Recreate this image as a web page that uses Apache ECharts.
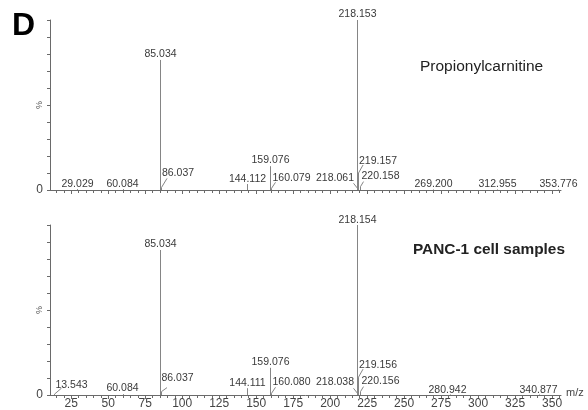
<!DOCTYPE html>
<html>
<head>
<meta charset="utf-8">
<script src="https://cdn.jsdelivr.net/npm/echarts@6/dist/echarts.min.js"></script>
<style>
html,body{margin:0;padding:0;background:#fff;}
#chart{width:588px;height:410px;}
</style>
</head>
<body>
<div id="chart"></div>
<script>
// ---- data ----
const topMz   = [29.029, 60.084, 85.034, 86.037, 144.112, 159.076, 160.079, 218.061, 218.153, 219.157, 220.158, 269.200, 312.955, 353.776];
const topInt  = [0.5,    0.5,    76.5,   1.5,    3.5,     14,      1.0,     1.0,     100,     10,      2.0,     0.3,     0.3,     0.3];
const botMz   = [13.543, 60.084, 85.034, 86.037, 144.111, 159.076, 160.080, 218.038, 218.154, 219.156, 220.156, 280.942, 340.877];
const botInt  = [0.5,    0.5,    85.3,   2.0,    4.0,     16,      1.0,     1.0,     100,     10.5,    2.0,     0.3,     0.3];
const xTickLabels = [25, 50, 75, 100, 125, 150, 175, 200, 225, 250, 275, 300, 325, 350];
const xMinorTicks = [15,20,30,35,40,45,55,60,65,70,80,85,90,95,105,110,115,120,130,135,140,145,155,160,165,170,180,185,190,195,205,210,215,220,230,235,240,245,255,260,265,270,280,285,290,295,305,310,315,320,330,335,340,345,355];
const panelTitles = ['Propionylcarnitine', 'PANC-1 cell samples'];

// ---- label layout (pixel offsets from peak top): [dx, dy, leaderX, leaderY] ----
const topLabelPos = [[0,-5],[-1,-5],[0,-6],[16.5,-14.5,5.5,-9],[0,-5],[0,-6],[20,-10.5,4,-6],[-22.5,-10.5,-4,-5],[0,-6],[19.5,-12,4.5,-8],[20,-10,3,-5],[0,-5],[0,-5],[0,-5]];
const botLabelPos = [[17,-9.5,7,-6],[-1,-6],[0,-5.5],[16,-13.5,5.5,-4],[0,-5],[0,-5.5],[20,-11.5,4,-6],[-22.5,-11,-4,-5],[0,-5],[19.5,-12,4.5,-8],[20,-10,3,-5],[-3,-4.5],[-1,-4.5]];

const FONT = "'Liberation Sans', Arial, sans-serif";
const PEAK = '#858585';
const TXT = '#3a3a3a';

function makeRender(layout) {
  return function (params, api) {
    const i = api.value(2);
    const p0 = api.coord([api.value(0), 0]);
    const p1 = api.coord([api.value(0), api.value(1)]);
    const x = Math.round(p0[0]) + 0.5;
    const lay = layout[i];
    const children = [{
      type: 'line',
      shape: {x1: x, y1: p0[1], x2: x, y2: p1[1]},
      style: {stroke: PEAK, lineWidth: 1}
    }, {
      type: 'text',
      x: x + lay[0], y: p1[1] + lay[1],
      style: {text: api.value(0).toFixed(3), fill: TXT, font: '10.5px ' + FONT, textAlign: 'center', textVerticalAlign: 'middle'}
    }];
    if (lay.length > 2) {
      children.push({
        type: 'line',
        shape: {x1: x, y1: p1[1], x2: x + lay[2], y2: p1[1] + lay[3]},
        style: {stroke: '#777', lineWidth: 0.9}
      });
    }
    return {type: 'group', children: children};
  };
}

function xAxes(gridIndex, withLabels) {
  const base = {
    type: 'value', gridIndex: gridIndex, min: 10.7, max: 356, position: 'bottom',
    splitLine: {show: false}
  };
  return [
    Object.assign({}, base, {
      axisLine: {show: true, lineStyle: {color: '#6a6a6a', width: 1}},
      axisTick: {show: true, customValues: xMinorTicks, length: 3, lineStyle: {color: '#6a6a6a'}},
      axisLabel: {show: false}
    }),
    Object.assign({}, base, {
      axisLine: {show: false},
      axisTick: {show: true, customValues: xTickLabels, length: 4, lineStyle: {color: '#6a6a6a'}},
      axisLabel: {show: withLabels, customValues: xTickLabels, margin: 3, color: '#444', fontSize: 12, fontFamily: FONT}
    })
  ];
}

function yAxis(gridIndex) {
  return {
    type: 'value', gridIndex: gridIndex, min: 0, max: 100, interval: 10,
    axisLine: {show: true, lineStyle: {color: '#6a6a6a', width: 1}},
    axisTick: {show: true, length: 3, lineStyle: {color: '#6a6a6a'}},
    axisLabel: {formatter: v => (v === 0 ? '0' : ''), margin: 7, color: '#444', fontSize: 12, fontFamily: FONT},
    splitLine: {show: false}
  };
}

const chart = echarts.init(document.getElementById('chart'), null, {renderer: 'canvas'});
chart.setOption({
  animation: false,
  backgroundColor: '#fff',
  grid: [
    {left: 50, top: 20, width: 511, height: 170},
    {left: 50, top: 225, width: 511, height: 170}
  ],
  xAxis: xAxes(0, false).concat(xAxes(1, true)),
  yAxis: [yAxis(0), yAxis(1)],
  series: [
    {
      type: 'custom', xAxisIndex: 0, yAxisIndex: 0, clip: false,
      renderItem: makeRender(topLabelPos),
      data: topMz.map((m, i) => [m, topInt[i], i])
    },
    {
      type: 'custom', xAxisIndex: 2, yAxisIndex: 1, clip: false,
      renderItem: makeRender(botLabelPos),
      data: botMz.map((m, i) => [m, botInt[i], i])
    }
  ],
  graphic: [
    {type: 'text', left: 12, top: 10, style: {text: 'D', fill: '#000', font: 'bold 32px ' + FONT}},
    {type: 'text', left: 420, top: 59, style: {text: panelTitles[0], fill: '#222', font: '15.5px ' + FONT}},
    {type: 'text', left: 413, top: 242, style: {text: panelTitles[1], fill: '#222', font: 'bold 15.4px ' + FONT}},
    {type: 'text', left: 566, top: 387, style: {text: 'm/z', fill: '#444', font: '11px ' + FONT}},
    {type: 'text', x: 40, y: 105, rotation: Math.PI / 2, style: {text: '%', fill: '#555', font: '9px ' + FONT, textAlign: 'center', textVerticalAlign: 'middle'}},
    {type: 'text', x: 40, y: 310, rotation: Math.PI / 2, style: {text: '%', fill: '#555', font: '9px ' + FONT, textAlign: 'center', textVerticalAlign: 'middle'}}
  ]
});
</script>
</body>
</html>
